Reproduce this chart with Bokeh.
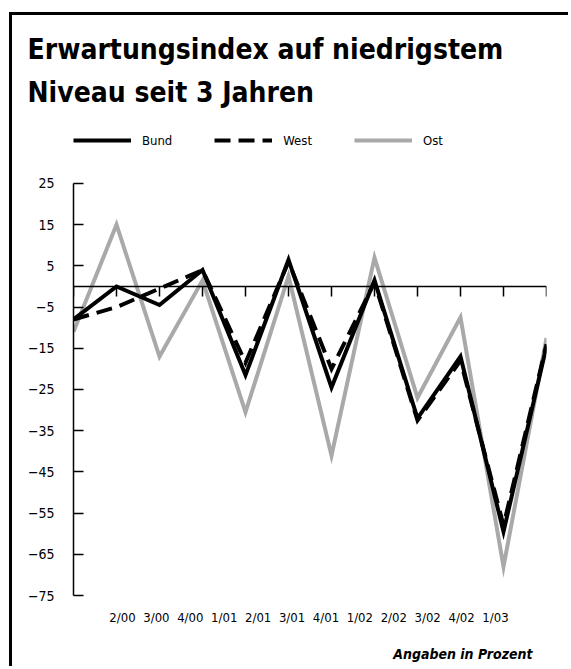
from bokeh.plotting import figure
from bokeh.models import Range1d, LinearAxis, FixedTicker, Legend, LegendItem, Title
from bokeh.embed import file_html
from bokeh.resources import INLINE

# ---- data ----
quarters = ["2/00", "3/00", "4/00", "1/01", "2/01", "3/01",
            "4/01", "1/02", "2/02", "3/02", "4/02", "1/03"]
bund = [-8, 0, -4.5, 4, -21.5, 6.5, -24.5, 1.5, -32, -17, -59.5, -14.5]
west = [-8, -5, -0.5, 4, -18.5, 6, -20, 1, -32.5, -18, -58, -14]
ost = [-11, 15, -17, 1.5, -30.5, 2.5, -41, 7, -27, -7.5, -68, -12.5]
y_ticks = [25, 15, 5, -5, -15, -25, -35, -45, -55, -65, -75]
y_axis_bounds = (-75, 25)

FONT = "DejaVu Sans Condensed, Roboto"
GRAY = "#a9a9a9"

xs = list(range(len(bund)))

# frame is 534 px tall at 4.12 px per unit; the part above 25 holds the legend,
# the part below -75 holds the quarter labels
p = figure(width=559, height=654, output_backend="svg", toolbar_location=None,
           x_range=Range1d(0, len(bund) - 1), y_range=Range1d(-86.65, 42.96),
           min_border_left=61, min_border_right=25, min_border_top=94,
           min_border_bottom=26, background_fill_color="white",
           border_fill_color="white", outline_line_color=None)
p.styles = {"margin-left": "9px", "margin-top": "12px",
            "border-left": "3px solid black", "border-top": "3px solid black"}
p.grid.visible = False

r_ost = p.line(xs, ost, line_color=GRAY, line_width=4, line_join="miter")
r_west = p.line(xs, west, line_color="black", line_width=4, line_dash="16 8",
                line_join="miter")
r_bund = p.line(xs, bund, line_color="black", line_width=4, line_join="miter")

# zero axis with downward ticks
xa = p.xaxis[0]
xa.fixed_location = 0
xa.ticker = FixedTicker(ticks=xs)
xa.axis_line_width = 1.5
xa.major_tick_line_width = 1.5
xa.major_tick_in = 0
xa.major_tick_out = 10
xa.minor_tick_line_color = None
xa.major_label_text_color = None

# quarter labels axis, sitting just under the -75 end of the value axis
p.extra_x_ranges = {"q": Range1d(-1.445, 12.504)}
lab_axis = LinearAxis(x_range_name="q", fixed_location=y_axis_bounds[0],
                      ticker=FixedTicker(ticks=list(range(len(quarters)))),
                      major_label_overrides={i: q for i, q in enumerate(quarters)},
                      axis_line_color=None, major_tick_line_color=None,
                      minor_tick_line_color=None, major_label_standoff=8,
                      major_label_text_font=FONT, major_label_text_font_size="13px",
                      major_label_text_color="black")
p.add_layout(lab_axis, "below")

# y axis
ya = p.yaxis[0]
ya.bounds = y_axis_bounds
ya.ticker = FixedTicker(ticks=y_ticks)
ya.axis_line_width = 1.5
ya.major_tick_line_width = 1.5
ya.major_tick_in = 10
ya.major_tick_out = 0
ya.minor_tick_line_color = None
ya.major_label_standoff = 19
ya.major_label_text_font = FONT
ya.major_label_text_font_size = "14px"
ya.major_label_text_color = "black"

# legend (inside the frame's top strip)
legend = Legend(items=[LegendItem(label="Bund", renderers=[r_bund]),
                       LegendItem(label="West", renderers=[r_west]),
                       LegendItem(label="Ost", renderers=[r_ost])],
                orientation="horizontal", location=(0, 493),
                glyph_width=58, glyph_height=20, label_height=20,
                label_standoff=11, spacing=42,
                padding=0, margin=0, border_line_color=None,
                background_fill_alpha=0, label_text_font=FONT,
                label_text_font_size="13px", label_text_color="black",
                label_text_baseline="alphabetic")
p.add_layout(legend)

# titles
t2 = Title(text="Niveau seit 3 Jahren", text_font=FONT, text_font_size="28px",
           text_font_style="bold", text_color="black", align="left",
           offset=-46, standoff=1)
t1 = Title(text="Erwartungsindex auf niedrigstem", text_font=FONT,
           text_font_size="28px", text_font_style="bold", text_color="black",
           align="left", offset=-46, standoff=15)
p.add_layout(t2, "above")
p.add_layout(t1, "above")

tb = Title(text="Angaben in Prozent", text_font=FONT, text_font_size="14px",
           text_font_style="bold italic", text_color="black", align="right",
           offset=14, standoff=0)
p.add_layout(tb, "below")

open("out.html", "w").write(file_html(p, INLINE))
